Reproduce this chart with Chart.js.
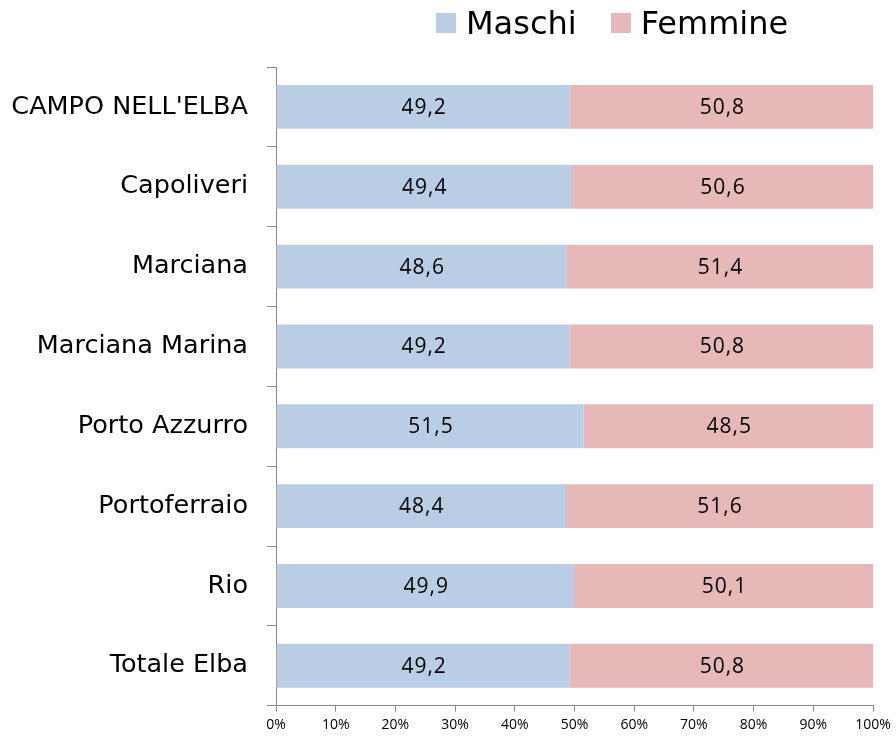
<!DOCTYPE html>
<html>
<head>
<meta charset="utf-8">
<script src="https://cdn.jsdelivr.net/npm/chart.js@4.4.0/dist/chart.umd.min.js"></script>
<style>
  body { margin: 0; background: #fff; }
  #wrap { position: relative; width: 896px; height: 740px; }
  #legenda { position: absolute; top: 4px; left: 436px; display: flex; align-items: center;
    font-family: "DejaVu Sans", sans-serif; font-size: 32px; color: #000; }
  #legenda span.box { display: inline-block; width: 20px; height: 20px; margin-right: 10px; }
  #legenda span.item { display: flex; align-items: center; margin-right: 34px; }
</style>
</head>
<body>
<div id="wrap">
  <canvas id="grafico" width="896" height="740"></canvas>
  <div id="legenda"></div>
</div>
<script>
const comuni = ["CAMPO NELL'ELBA", "Capoliveri", "Marciana", "Marciana Marina", "Porto Azzurro", "Portoferraio", "Rio", "Totale Elba"];
const maschi = [49.2, 49.4, 48.6, 49.2, 51.5, 48.4, 49.9, 49.2];
const femmine = [50.8, 50.6, 51.4, 50.8, 48.5, 51.6, 50.1, 50.8];
const tickPercentuali = [0, 10, 20, 30, 40, 50, 60, 70, 80, 90, 100];

const coloreMaschi = "#B9CDE5";
const coloreFemmine = "#E6B9B8";

// etichette dentro le barre, come in Excel
const etichette = {
    id: "etichette",
    afterDatasetsDraw(chart) {
        const ctx = chart.ctx;
        ctx.save();
        ctx.font = "21px 'Open Sans', sans-serif";
        ctx.letterSpacing = "1px";
        ctx.fillStyle = "#000";
        ctx.textAlign = "center";
        ctx.textBaseline = "middle";
        chart.data.datasets.forEach((ds, i) => {
            chart.getDatasetMeta(i).data.forEach((bar, j) => {
                const centro = bar.getCenterPoint();
                ctx.fillText(ds.data[j].toFixed(1).replace(".", ","), centro.x + 1, centro.y + 1);
            });
        });
        ctx.restore();
    }
};

const monChart = new Chart(document.getElementById("grafico"), {
    type: "bar",
    data: {
        labels: comuni,
        datasets: [
            { label: "Maschi", data: maschi, backgroundColor: coloreMaschi, barPercentage: 0.55, categoryPercentage: 1 },
            { label: "Femmine", data: femmine, backgroundColor: coloreFemmine, barPercentage: 0.55, categoryPercentage: 1 }
        ]
    },
    options: {
        indexAxis: "y",
        responsive: false,
        animation: false,
        layout: { padding: { top: 67, right: 23, left: 0, bottom: 0 } },
        plugins: {
            legend: { display: false },
            tooltip: { enabled: false }
        },
        scales: {
            x: {
                stacked: true,
                min: 0,
                max: 100,
                afterBuildTicks: (scale) => { scale.ticks = tickPercentuali.map(v => ({ value: v })); },
                ticks: {
                    callback: (v) => v + "%",
                    font: { family: "'Open Sans', sans-serif", size: 14 },
                    color: "#000",
                    padding: 5,
                    maxRotation: 0
                },
                grid: { drawOnChartArea: false, drawTicks: true, tickLength: 6, color: "#888" },
                border: { color: "#888" },
                afterFit: (scale) => { scale.height = 31; }
            },
            y: {
                stacked: true,
                ticks: {
                    font: { family: "'DejaVu Sans', sans-serif", size: 25.5 },
                    color: "#000",
                    padding: 19
                },
                grid: { drawOnChartArea: false, drawTicks: true, tickLength: 9, color: "#888", offset: true },
                border: { color: "#888" },
                afterFit: (scale) => { scale.width = 276; }
            }
        }
    },
    plugins: [etichette]
});

const legenda = document.getElementById("legenda");
monChart.data.datasets.forEach(ds => {
    const item = document.createElement("span");
    item.className = "item";
    const box = document.createElement("span");
    box.className = "box";
    box.style.background = ds.backgroundColor;
    item.appendChild(box);
    item.appendChild(document.createTextNode(ds.label));
    legenda.appendChild(item);
});
</script>
</body>
</html>
